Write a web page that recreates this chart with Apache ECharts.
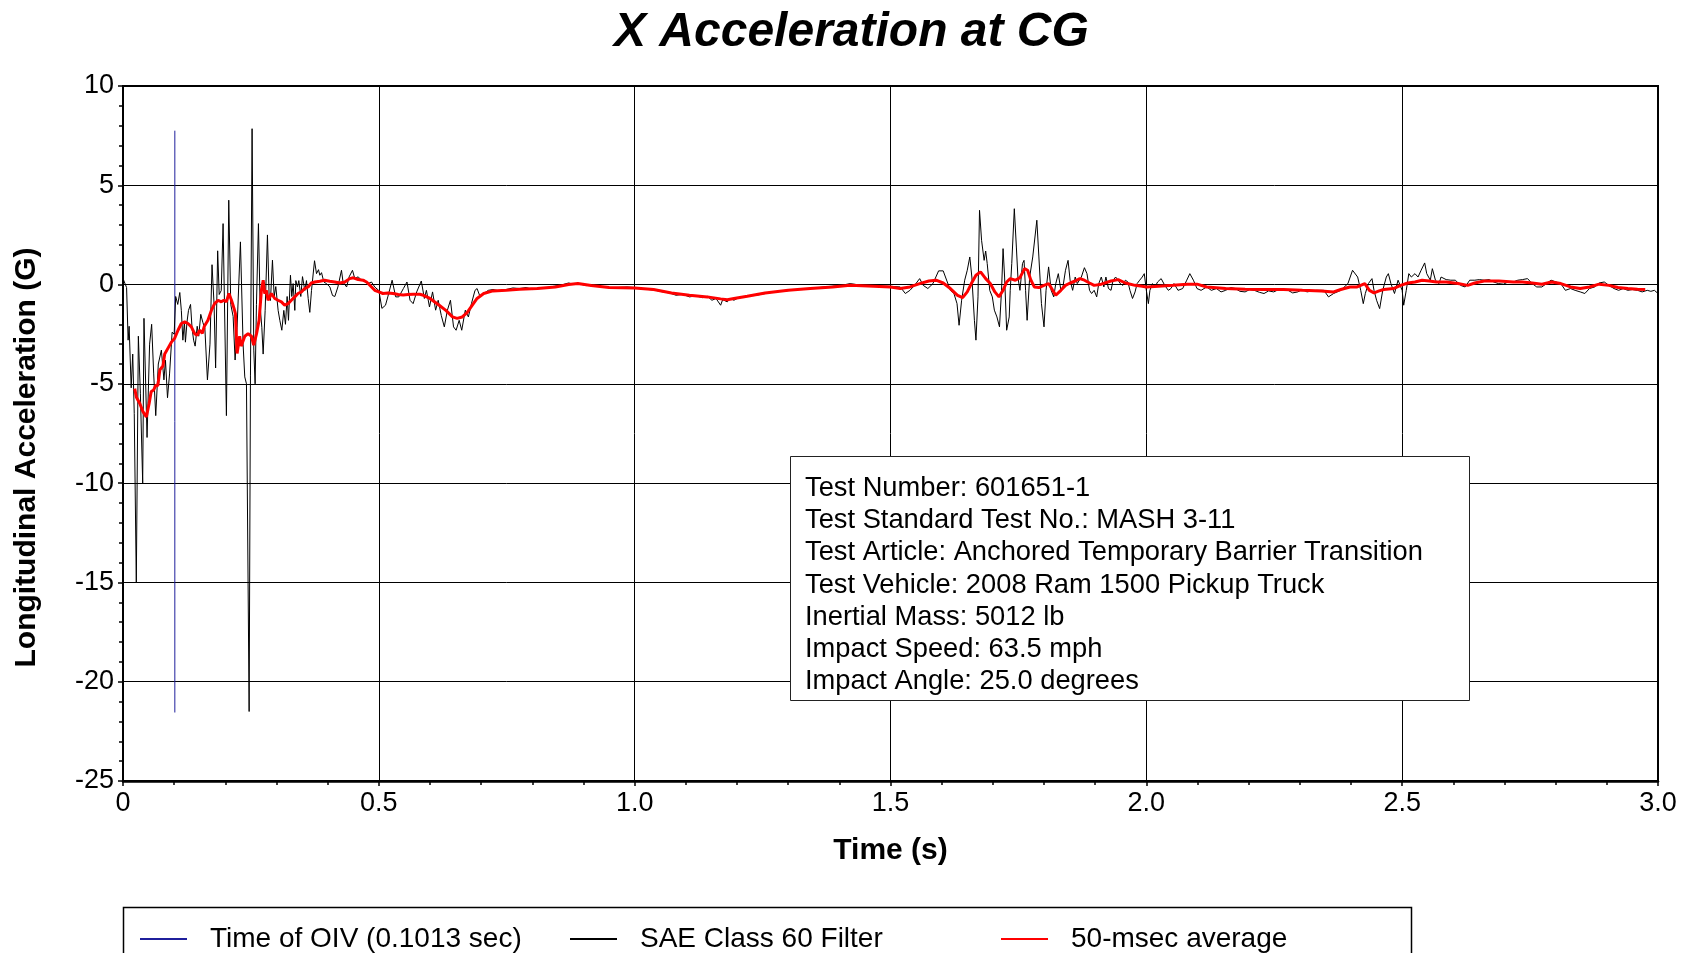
<!DOCTYPE html>
<html>
<head>
<meta charset="UTF-8">
<title>X Acceleration at CG</title>
<script src="https://cdn.jsdelivr.net/npm/echarts@6/dist/echarts.min.js"></script>
<style>
  html, body { margin: 0; padding: 0; background: #fff; }
  #main { width: 1688px; height: 953px; }
</style>
</head>
<body>
<div id="main"></div>
<script>
// time (s), acceleration (G)
var filterData = [
  [0.000,0.30],[0.003,0.25],[0.007,-0.15],[0.010,-2.8],[0.012,-2.1],[0.016,-5.2],[0.019,-3.5],[0.022,-6.5],
  [0.026,-15.0],[0.030,-2.6],[0.034,-5.5],[0.0385,-10.0],[0.041,-1.7],[0.047,-7.7],[0.052,-3.0],[0.056,-2.0],
  [0.060,-4.5],[0.064,-6.6],[0.069,-4.0],[0.075,-3.3],[0.080,-4.8],[0.083,-3.8],[0.087,-5.7],[0.091,-4.5],
  [0.096,-2.4],[0.100,-2.5],[0.103,-0.6],[0.107,-1.0],[0.111,-0.4],[0.114,-1.3],[0.117,-2.8],[0.120,-1.9],
  [0.122,-2.9],[0.125,-1.9],[0.128,-1.3],[0.132,-1.0],[0.135,-2.2],[0.138,-2.8],[0.141,-3.1],[0.145,-2.1],
  [0.148,-2.6],[0.152,-1.5],[0.156,-1.9],[0.160,-2.2],[0.165,-4.8],[0.170,-3.0],[0.174,1.0],[0.178,-1.0],
  [0.181,-4.2],[0.185,1.7],[0.188,-0.5],[0.192,-0.3],[0.1956,3.07],[0.2021,-6.6],[0.2067,4.25],[0.2106,-1.0],
  [0.2152,-1.6],[0.2191,-3.8],[0.2230,-2.15],[0.2295,2.15],[0.2347,-3.0],[0.2380,-4.65],[0.2413,-5.0],[0.2465,-21.5],
  [0.2491,-4.6],[0.2523,7.85],[0.2556,-3.3],[0.2582,-5.0],[0.2608,-1.0],[0.2647,3.07],[0.2680,-1.1],[0.2713,-2.15],
  [0.2739,-3.5],[0.2778,-1.3],[0.2823,2.5],[0.2856,-0.6],[0.2882,-0.8],[0.2921,1.23],[0.2954,-0.6],[0.2986,-0.1],
  [0.3032,-1.3],[0.3065,-1.8],[0.3104,-2.3],[0.3143,-1.3],[0.3175,-2.0],[0.3208,-0.6],[0.3234,-1.8],[0.3273,0.47],
  [0.3299,-0.6],[0.3325,0.05],[0.3358,-1.3],[0.3378,0.2],[0.3410,-0.12],[0.3436,0.2],[0.3475,-0.6],[0.3508,0.4],
  [0.3554,-0.3],[0.3586,0.2],[0.3619,-0.7],[0.3651,-1.4],[0.3684,-0.3],[0.3743,1.2],[0.3782,0.55],[0.3821,0.75],
  [0.3847,0.47],[0.3880,0.6],[0.3925,0.13],[0.3977,0.05],[0.4043,-0.12],[0.4095,-0.55],[0.4140,-0.6],[0.420,-0.12],
  [0.427,0.72],[0.430,0.13],[0.437,-0.12],[0.442,0.39],[0.4485,0.72],[0.453,0.3],[0.4596,0.39],[0.466,0.22],
  [0.4726,0.22],[0.479,0.05],[0.4856,0.13],[0.492,-0.12],[0.500,-0.3],[0.506,-1.2],[0.513,-1.04],[0.5175,-0.62],
  [0.526,0.22],[0.533,-0.62],[0.539,-0.62],[0.548,-0.2],[0.555,0.13],[0.561,-0.79],[0.567,-0.96],[0.574,-0.37],
  [0.583,0.18],[0.589,-0.7],[0.593,-0.29],[0.599,-1.13],[0.605,-0.37],[0.611,-1.29],[0.616,-0.79],[0.622,-1.55],
  [0.628,-2.13],[0.634,-1.29],[0.640,-0.79],[0.646,-2.13],[0.651,-2.3],[0.657,-1.8],[0.662,-2.3],[0.669,-1.29],
  [0.675,-1.63],[0.681,-0.96],[0.688,-0.29],[0.692,-0.2],[0.698,-0.62],[0.705,-0.45],[0.714,-0.29],[0.723,-0.25],
  [0.736,-0.32],[0.749,-0.25],[0.762,-0.17],[0.775,-0.2],[0.788,-0.15],[0.801,-0.25],[0.814,-0.15],[0.828,-0.17],
  [0.841,-0.09],[0.854,-0.04],[0.871,0.08],[0.880,0.02],[0.889,0.05],[0.906,-0.05],[0.919,0.0],[0.932,-0.09],
  [0.950,-0.15],[0.967,-0.15],[0.985,-0.12],[1.000,-0.15],[1.015,-0.2],[1.028,-0.25],[1.041,-0.29],[1.055,-0.37],
  [1.068,-0.42],[1.081,-0.54],[1.094,-0.49],[1.107,-0.62],[1.120,-0.57],[1.133,-0.66],[1.142,-0.59],[1.151,-0.79],
  [1.159,-0.7],[1.168,-1.04],[1.172,-0.76],[1.181,-0.87],[1.187,-0.7],[1.194,-0.79],[1.203,-0.66],[1.212,-0.62],
  [1.225,-0.55],[1.238,-0.54],[1.255,-0.45],[1.273,-0.37],[1.295,-0.32],[1.317,-0.25],[1.338,-0.2],[1.360,-0.15],
  [1.382,-0.09],[1.404,-0.04],[1.421,0.05],[1.439,-0.02],[1.456,-0.05],[1.478,-0.07],[1.500,-0.09],[1.519,-0.12],
  [1.529,-0.45],[1.538,-0.29],[1.547,-0.04],[1.557,0.3],[1.564,-0.04],[1.573,-0.2],[1.583,0.05],[1.594,0.69],
  [1.603,0.69],[1.611,0.13],[1.617,-0.29],[1.624,-0.45],[1.630,-0.96],[1.634,-2.05],[1.639,-0.79],[1.645,0.22],
  [1.650,0.72],[1.655,1.39],[1.659,0.38],[1.664,-1.8],[1.667,-2.8],[1.671,-0.62],[1.674,3.74],[1.678,2.23],
  [1.683,1.22],[1.686,1.69],[1.689,1.06],[1.694,-0.29],[1.699,-0.62],[1.703,-1.29],[1.708,-1.63],[1.713,-2.13],
  [1.717,-0.29],[1.720,1.81],[1.723,0.38],[1.727,-2.3],[1.732,-1.63],[1.734,-0.29],[1.737,1.06],[1.742,3.82],
  [1.746,1.89],[1.749,0.38],[1.753,-0.29],[1.758,1.06],[1.761,1.22],[1.764,-0.29],[1.767,-1.8],[1.772,0.38],
  [1.778,1.39],[1.786,3.24],[1.790,1.39],[1.795,-0.96],[1.800,-2.13],[1.804,-0.29],[1.809,0.89],[1.814,-0.29],
  [1.819,-0.62],[1.823,0.05],[1.828,0.55],[1.833,-0.29],[1.837,-0.12],[1.842,0.72],[1.847,1.22],[1.851,0.22],
  [1.856,-0.29],[1.861,0.38],[1.865,0.05],[1.873,0.38],[1.879,0.85],[1.884,0.55],[1.889,-0.29],[1.893,-0.45],
  [1.898,-0.29],[1.903,-0.62],[1.907,0.05],[1.912,0.38],[1.917,-0.12],[1.921,0.38],[1.926,-0.2],[1.931,-0.29],
  [1.935,0.22],[1.940,0.38],[1.945,0.22],[1.949,0.05],[1.954,-0.04],[1.959,0.22],[1.964,0.13],[1.968,-0.29],
  [1.973,-0.7],[1.978,-0.37],[1.982,0.05],[1.987,0.22],[1.992,0.38],[1.996,0.55],[2.000,-0.29],[2.004,-0.96],
  [2.007,-0.29],[2.012,0.05],[2.017,-0.12],[2.022,0.13],[2.029,0.3],[2.036,-0.04],[2.043,-0.29],[2.048,-0.2],
  [2.054,0.05],[2.062,-0.29],[2.071,-0.2],[2.079,0.22],[2.085,0.55],[2.092,0.22],[2.099,-0.2],[2.107,-0.29],
  [2.118,-0.12],[2.127,-0.29],[2.137,-0.2],[2.146,-0.37],[2.155,-0.29],[2.165,-0.15],[2.174,-0.2],[2.183,-0.34],
  [2.193,-0.37],[2.202,-0.25],[2.211,-0.29],[2.221,-0.39],[2.230,-0.45],[2.239,-0.32],[2.249,-0.37],[2.263,-0.2],
  [2.277,-0.29],[2.286,-0.42],[2.296,-0.37],[2.305,-0.25],[2.314,-0.37],[2.324,-0.32],[2.333,-0.29],[2.347,-0.29],
  [2.356,-0.62],[2.366,-0.45],[2.380,-0.29],[2.394,0.05],[2.403,0.72],[2.413,0.38],[2.419,-0.29],[2.424,-0.96],
  [2.428,-0.45],[2.434,0.05],[2.441,0.3],[2.445,-0.29],[2.450,-0.79],[2.456,-1.21],[2.462,-0.29],[2.469,0.38],
  [2.473,0.55],[2.478,0.05],[2.485,-0.45],[2.492,0.22],[2.500,-0.29],[2.503,-1.04],[2.508,-0.29],[2.513,0.55],
  [2.518,0.38],[2.525,0.55],[2.531,0.38],[2.537,0.72],[2.544,1.09],[2.548,0.55],[2.555,0.22],[2.559,0.8],
  [2.565,0.22],[2.572,0.05],[2.576,0.38],[2.586,0.25],[2.595,0.22],[2.604,0.22],[2.614,-0.04],[2.623,-0.12],
  [2.632,0.22],[2.642,0.22],[2.651,0.25],[2.660,0.22],[2.670,0.25],[2.679,0.13],[2.688,0.05],[2.698,0.02],
  [2.707,0.13],[2.717,0.13],[2.726,0.22],[2.735,0.25],[2.745,0.3],[2.754,0.05],[2.763,-0.12],[2.773,-0.12],
  [2.782,0.05],[2.791,0.22],[2.801,0.13],[2.810,0.05],[2.819,-0.29],[2.829,-0.2],[2.838,-0.29],[2.848,-0.37],
  [2.857,-0.45],[2.866,-0.2],[2.876,-0.12],[2.885,0.08],[2.895,0.13],[2.904,-0.04],[2.914,-0.2],[2.923,-0.29],
  [2.932,-0.2],[2.941,-0.29],[2.950,-0.25],[2.960,-0.29],[2.969,-0.37],[2.979,-0.29],[2.986,-0.34],[2.993,-0.29],
  [3.000,-0.45]
];

var avgData = [
  [0.023,-5.24],[0.026,-5.66],[0.033,-6.0],[0.039,-6.4],[0.0456,-6.66],[0.051,-6.0],[0.055,-5.4],[0.060,-5.3],
  [0.064,-5.07],[0.068,-5.1],[0.072,-4.3],[0.078,-4.1],[0.0815,-3.5],[0.088,-3.2],[0.0945,-2.9],[0.101,-2.7],
  [0.1075,-2.3],[0.114,-1.96],[0.1206,-1.88],[0.127,-1.96],[0.1336,-2.13],[0.140,-2.47],[0.145,-2.55],[0.150,-2.3],
  [0.155,-2.45],[0.159,-2.1],[0.166,-1.8],[0.1727,-1.3],[0.179,-0.96],[0.186,-0.79],[0.192,-0.87],[0.197,-0.79],
  [0.202,-0.87],[0.207,-0.45],[0.212,-0.79],[0.217,-1.2],[0.2197,-1.46],[0.223,-3.47],[0.225,-3.4],[0.228,-2.6],
  [0.231,-3.1],[0.238,-2.6],[0.2445,-2.47],[0.251,-2.6],[0.2555,-3.05],[0.261,-2.47],[0.266,-1.8],[0.2705,-0.29],
  [0.274,0.22],[0.277,-0.45],[0.280,-0.29],[0.2835,-0.79],[0.290,-0.45],[0.2966,-0.7],[0.303,-0.79],[0.3096,-0.87],
  [0.316,-1.04],[0.3227,-0.96],[0.329,-0.79],[0.3357,-0.62],[0.342,-0.45],[0.3487,-0.37],[0.355,-0.2],[0.3618,-0.12],
  [0.368,0.08],[0.375,0.13],[0.3846,0.17],[0.394,0.22],[0.404,0.17],[0.414,0.13],[0.4237,0.08],[0.4335,0.13],
  [0.443,0.3],[0.450,0.34],[0.4596,0.25],[0.469,0.22],[0.476,0.13],[0.4824,-0.03],[0.492,-0.29],[0.500,-0.37],
  [0.508,-0.45],[0.518,-0.42],[0.528,-0.45],[0.538,-0.5],[0.5476,-0.52],[0.557,-0.5],[0.567,-0.49],[0.580,-0.49],
  [0.587,-0.54],[0.600,-0.7],[0.618,-1.04],[0.631,-1.3],[0.644,-1.63],[0.653,-1.7],[0.663,-1.63],[0.672,-1.43],
  [0.681,-1.1],[0.692,-0.7],[0.705,-0.45],[0.723,-0.32],[0.749,-0.29],[0.775,-0.24],[0.810,-0.2],[0.845,-0.12],
  [0.871,0.0],[0.889,0.05],[0.915,-0.05],[0.950,-0.15],[1.000,-0.17],[1.037,-0.25],[1.072,-0.42],[1.107,-0.54],
  [1.142,-0.62],[1.168,-0.72],[1.181,-0.76],[1.194,-0.7],[1.220,-0.59],[1.255,-0.42],[1.300,-0.29],[1.343,-0.2],
  [1.387,-0.12],[1.421,-0.04],[1.456,-0.07],[1.500,-0.12],[1.519,-0.2],[1.538,-0.12],[1.557,0.05],[1.575,0.18],
  [1.589,0.22],[1.603,0.08],[1.617,-0.2],[1.631,-0.54],[1.641,-0.66],[1.650,-0.37],[1.658,0.05],[1.667,0.47],
  [1.676,0.64],[1.686,0.3],[1.695,0.05],[1.704,-0.37],[1.712,-0.62],[1.720,-0.29],[1.727,0.13],[1.734,0.3],
  [1.744,0.22],[1.753,0.35],[1.762,0.8],[1.768,0.72],[1.774,0.25],[1.781,-0.12],[1.790,-0.15],[1.800,-0.04],
  [1.809,0.05],[1.817,-0.29],[1.823,-0.54],[1.833,-0.29],[1.842,-0.04],[1.851,0.08],[1.861,0.18],[1.870,0.3],
  [1.879,0.22],[1.889,0.08],[1.898,-0.04],[1.912,0.02],[1.931,0.18],[1.945,0.25],[1.959,0.08],[1.978,-0.04],
  [1.992,-0.08],[2.000,-0.12],[2.024,-0.08],[2.052,-0.04],[2.080,0.02],[2.099,0.02],[2.118,-0.12],[2.155,-0.2],
  [2.193,-0.24],[2.230,-0.25],[2.268,-0.25],[2.305,-0.29],[2.342,-0.32],[2.366,-0.37],[2.380,-0.25],[2.398,-0.12],
  [2.412,-0.12],[2.427,0.05],[2.436,-0.29],[2.445,-0.42],[2.455,-0.32],[2.464,-0.25],[2.483,-0.2],[2.497,-0.04],
  [2.511,0.08],[2.525,0.13],[2.539,0.22],[2.553,0.18],[2.567,0.13],[2.586,0.13],[2.609,0.05],[2.628,-0.04],
  [2.642,0.08],[2.660,0.18],[2.689,0.18],[2.717,0.13],[2.735,0.13],[2.754,0.08],[2.773,0.02],[2.792,0.13],
  [2.810,0.05],[2.829,-0.12],[2.848,-0.2],[2.866,-0.12],[2.885,0.02],[2.904,-0.04],[2.922,-0.15],[2.941,-0.2],
  [2.960,-0.24],[2.975,-0.25]
];

// time of OIV marker, drawn between the min and max of the filtered trace
var oivTime = 0.1013;
var oivRange = [-21.55, 7.75];

var seriesNames = ['Time of OIV (0.1013 sec)', 'SAE Class 60 Filter', '50-msec average'];

var infoLines = [
  'Test Number: 601651-1',
  'Test Standard Test No.: MASH 3-11',
  'Test Article: Anchored Temporary Barrier Transition',
  'Test Vehicle: 2008 Ram 1500 Pickup Truck',
  'Inertial Mass: 5012 lb',
  'Impact Speed: 63.5 mph',
  'Impact Angle: 25.0 degrees'
];

var FONT = '"Liberation Sans", Arial, Helvetica, sans-serif';

var myChart = echarts.init(document.getElementById('main'), null, { renderer: 'canvas' });

// legend columns are evenly spaced, so one legend per entry
function legendAt(name, left) {
  return {
    data: [name],
    left: left,
    top: 925,
    padding: 0,
    itemWidth: 47,
    itemHeight: 14,
    // hide the dot that a line series puts in its legend icon
    itemStyle: { color: 'rgba(0,0,0,0)', borderColor: 'rgba(0,0,0,0)', borderWidth: 0 },
    textStyle: { fontSize: 28, color: '#000', fontFamily: FONT, padding: [0, 0, 0, 18] }
  };
}

var option = {
  backgroundColor: '#ffffff',
  animation: false,
  textStyle: { fontFamily: FONT },
  title: {
    text: 'X Acceleration at CG',
    left: 609,
    top: 4,
    textStyle: { fontSize: 48, fontWeight: 'bold', fontStyle: 'italic', color: '#000', fontFamily: FONT }
  },
  grid: {
    left: 123, right: 30, top: 86, bottom: 172,
    show: true, borderColor: '#000', borderWidth: 2, backgroundColor: 'transparent'
  },
  legend: [
    legendAt(seriesNames[0], 139),
    legendAt(seriesNames[1], 569),
    legendAt(seriesNames[2], 1000)
  ],
  xAxis: {
    type: 'value',
    min: 0, max: 3, interval: 0.5,
    axisLine: { show: true, onZero: false, lineStyle: { color: '#000', width: 2.5 } },
    axisTick: { show: true, length: 5, lineStyle: { color: '#000', width: 1.5 } },
    minorTick: { show: true, splitNumber: 5, length: 4, lineStyle: { color: '#000', width: 1.5 } },
    splitLine: { show: true, lineStyle: { color: '#000', width: 1 } },
    axisLabel: {
      fontSize: 27, color: '#000', margin: 9, showMinLabel: true, showMaxLabel: true,
      formatter: function (v) { return v === 0 ? '0' : v.toFixed(1); }
    },
    name: 'Time (s)',
    nameLocation: 'middle',
    nameGap: 55,
    nameTextStyle: { fontSize: 30, fontWeight: 'bold', color: '#000' }
  },
  yAxis: {
    type: 'value',
    min: -25, max: 10, interval: 5,
    axisLine: { show: true, onZero: false, lineStyle: { color: '#000', width: 2 } },
    axisTick: { show: true, length: 5, lineStyle: { color: '#000', width: 1.5 } },
    minorTick: { show: true, splitNumber: 5, length: 4, lineStyle: { color: '#000', width: 1.5 } },
    splitLine: { show: true, lineStyle: { color: '#000', width: 1 } },
    axisLabel: { fontSize: 27, color: '#000', margin: 9, showMinLabel: true, showMaxLabel: true },
    name: 'Longitudinal Acceleration (G)',
    nameLocation: 'middle',
    nameGap: 81,
    nameTextStyle: { fontSize: 30, fontWeight: 'bold', color: '#000', padding: [0, 48, 0, 0] }
  },
  series: [
    {
      name: seriesNames[0],
      type: 'line',
      data: [[oivTime, oivRange[0]], [oivTime, oivRange[1]]],
      symbol: 'none',
      lineStyle: { color: '#1f1f9c', width: 1 },
      itemStyle: { color: '#1f1f9c' },
      z: 2
    },
    {
      name: seriesNames[1],
      type: 'line',
      data: filterData,
      symbol: 'none',
      sampling: null,
      lineStyle: { color: '#000', width: 1 },
      itemStyle: { color: '#000' },
      z: 3
    },
    {
      name: seriesNames[2],
      type: 'line',
      data: avgData,
      symbol: 'none',
      lineStyle: { color: '#ff0000', width: 3 },
      itemStyle: { color: '#ff0000' },
      z: 4
    }
  ],
  graphic: [
    {
      // legend frame, runs off the bottom of the picture
      type: 'rect',
      left: 121,
      top: 905,
      z: 90,
      shape: { width: 1288, height: 90 },
      style: { fill: 'none', stroke: '#000', lineWidth: 1.5 }
    },
    {
      type: 'rect',
      left: 790,
      top: 456,
      z: 100,
      shape: { width: 679, height: 244 },
      style: { fill: '#ffffff', stroke: '#222', lineWidth: 1 }
    },
    {
      type: 'text',
      left: 805,
      top: 472,
      z: 101,
      style: {
        text: infoLines.join('\n'),
        font: '27.3px ' + FONT,
        lineHeight: 32.3,
        fill: '#000'
      }
    }
  ]
};

myChart.setOption(option);
</script>
</body>
</html>
